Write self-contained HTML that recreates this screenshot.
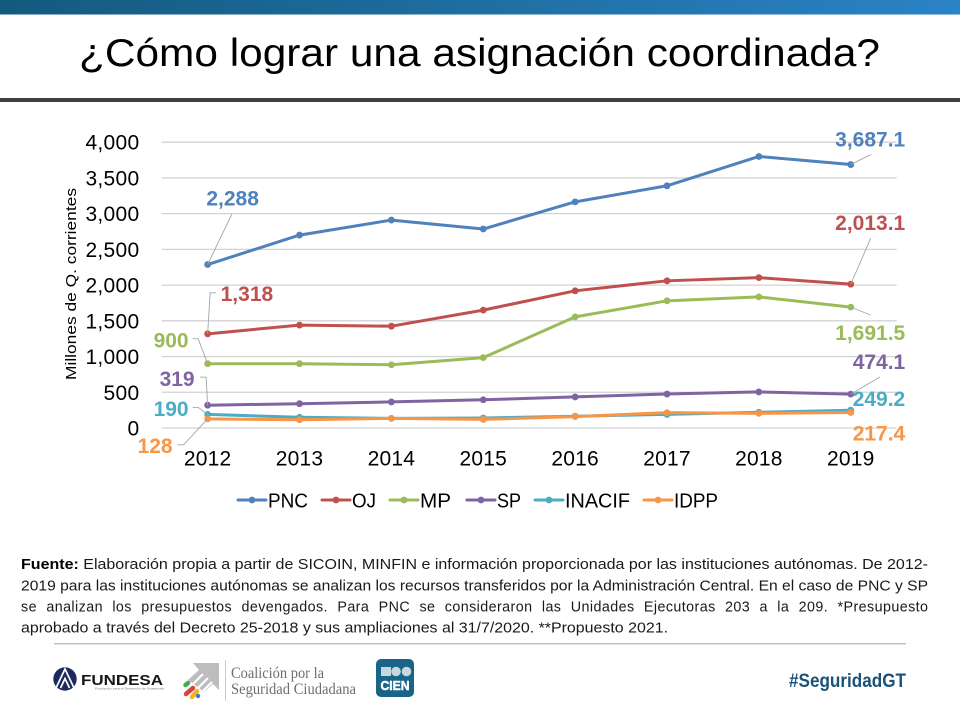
<!DOCTYPE html>
<html lang="es">
<head>
<meta charset="utf-8">
<title>¿Cómo lograr una asignación coordinada?</title>
<style>
html,body{margin:0;padding:0;background:#fff;width:960px;height:720px;overflow:hidden}
svg{display:block;font-family:"Liberation Sans",sans-serif}
</style>
</head>
<body>
<svg id="slide" width="960" height="720" viewBox="0 0 960 720" xmlns="http://www.w3.org/2000/svg">
  <defs>
    <linearGradient id="barGrad" x1="0" x2="1" y1="0" y2="0">
      <stop offset="0" stop-color="#135a7e"/>
      <stop offset="1" stop-color="#2a83c6"/>
    </linearGradient>
  </defs>
  <rect x="0" y="0" width="960" height="14.5" fill="url(#barGrad)"/>
  <text x="79" y="66" font-size="39" textLength="801" lengthAdjust="spacingAndGlyphs" fill="#000">¿Cómo lograr una asignación coordinada?</text>
  <rect x="0" y="98" width="960" height="4" fill="#404040"/>

  <g id="chart"></g>

  <text transform="translate(76,380) rotate(-90)" font-size="14.5" textLength="192" lengthAdjust="spacingAndGlyphs" fill="#000">Millones de Q. corrientes</text>

  <g font-size="14.3" fill="#1a1a1a">
    <text x="21" y="569" textLength="907" lengthAdjust="spacingAndGlyphs"><tspan font-weight="700" fill="#000">Fuente:</tspan> Elaboración propia a partir de SICOIN, MINFIN e información proporcionada por las instituciones autónomas. De 2012-</text>
    <text x="21" y="590.5" textLength="907" lengthAdjust="spacingAndGlyphs">2019 para las instituciones autónomas se analizan los recursos transferidos por la Administración Central. En el caso de PNC y SP</text>
    <text x="21" y="611.5" textLength="907" lengthAdjust="spacing" word-spacing="5">se analizan los presupuestos devengados. Para PNC se consideraron las Unidades Ejecutoras 203 a la 209. *Presupuesto</text>
    <text x="21" y="632.5" textLength="647" lengthAdjust="spacingAndGlyphs">aprobado a través del Decreto 25-2018 y sus ampliaciones al 31/7/2020. **Propuesto 2021.</text>
  </g>

  <rect x="54" y="643" width="852" height="1.4" fill="#bfbfbf"/>

  <g>
    <circle cx="65" cy="679" r="11.7" fill="#1c2a5e"/>
    <path d="M56 688 L65 669 L74 688 M60.5 688 L65 678.5 L69.5 688" fill="none" stroke="#fff" stroke-width="1.7"/>
    <text x="81" y="685" font-size="15" font-weight="700" textLength="82" lengthAdjust="spacingAndGlyphs" fill="#161616">FUNDESA</text>
    <text x="95" y="689.5" font-size="3" textLength="69" lengthAdjust="spacingAndGlyphs" fill="#777">Fundación para el Desarrollo de Guatemala</text>
  </g>

  <g>
    <polygon points="193,663 219,663 219,690 213,684 204,692 188,680 199,670" fill="#bdbdbd"/>
    <path d="M193 684 L203 674 M198 688 L208 678 M203 691 L212 682" stroke="#fff" stroke-width="2.2" fill="none"/>
    <line x1="185.500" y1="685" x2="188" y2="683" stroke="#4aa84a" stroke-width="4.500" stroke-linecap="round"/>
    <line x1="186" y1="694" x2="193" y2="688" stroke="#d5443c" stroke-width="4.500" stroke-linecap="round"/>
    <line x1="192" y1="697" x2="197" y2="691" stroke="#f0b429" stroke-width="4.500" stroke-linecap="round"/>
    <circle cx="198" cy="696" r="2.2" fill="#3a7fc4"/>
    <rect x="225" y="660" width="0.9" height="41" fill="#c4c4c4"/>
    <text x="231" y="678" font-family="'Liberation Serif',serif" font-size="15.500" textLength="93" lengthAdjust="spacingAndGlyphs" fill="#6e6e6e">Coalición por la</text>
    <text x="231" y="694" font-family="'Liberation Serif',serif" font-size="15.500" textLength="125" lengthAdjust="spacingAndGlyphs" fill="#6e6e6e">Seguridad Ciudadana</text>
  </g>

  <g>
    <rect x="376" y="659" width="38" height="38" rx="5" fill="#1a6488"/>
    <rect x="381" y="667" width="10" height="9" fill="#c5d7e1"/>
    <circle cx="396" cy="671.500" r="4.800" fill="#c5d7e1"/>
    <circle cx="406.500" cy="671.500" r="4.800" fill="#c5d7e1"/>
    <text x="395" y="690" font-size="13" font-weight="700" stroke="#fff" stroke-width="0.5" text-anchor="middle" textLength="29" lengthAdjust="spacingAndGlyphs" fill="#fff">CIEN</text>
  </g>

  <text x="789" y="687" font-size="19" font-weight="700" textLength="117" lengthAdjust="spacingAndGlyphs" fill="#1b5279">#SeguridadGT</text>
</svg>

<script>
const categories = ['2012', '2013', '2014', '2015', '2016', '2017', '2018', '2019'];
const yTicks = [0, 500, 1000, 1500, 2000, 2500, 3000, 3500, 4000];
const yTickLabels = ['0', '500', '1,000', '1,500', '2,000', '2,500', '3,000', '3,500', '4,000'];

const pnc = [2288, 2700, 2910, 2785, 3165, 3390, 3800, 3687.1];
const oj = [1318, 1440, 1425, 1650, 1920, 2060, 2105, 2013.1];
const mp = [900, 900, 885, 985, 1555, 1780, 1835, 1691.5];
const sp = [319, 340, 365, 395, 435, 475, 505, 474.1];
const inacif = [190, 150, 135, 140, 165, 190, 220, 249.2];
const idpp = [128, 115, 135, 120, 160, 215, 205, 217.4];

const seriesNames = ['PNC', 'OJ', 'MP', 'SP', 'INACIF', 'IDPP'];
const firstLabels = ['2,288', '1,318', '900', '319', '190', '128'];
const lastLabels = ['3,687.1', '2,013.1', '1,691.5', '474.1', '249.2', '217.4'];

const seriesValues = [pnc, oj, mp, sp, inacif, idpp];
const colors = ['#4f81bd', '#c0504d', '#9bbb59', '#8064a2', '#4bacc6', '#f79646'];
const plot = { left: 161.7, right: 896.7, zeroY: 428, topY: 142.2, max: 4000 };
const step = (plot.right - plot.left) / categories.length;
const xScale = i => plot.left + step * (i + 0.5);
const yScale = v => plot.zeroY - (v / plot.max) * (plot.zeroY - plot.topY);

const SVGNS = 'http://www.w3.org/2000/svg';
const chart = document.getElementById('chart');
function make(tag, attrs, parent) {
  const el = document.createElementNS(SVGNS, tag);
  for (const k in attrs) el.setAttribute(k, attrs[k]);
  parent.appendChild(el);
  return el;
}

yTicks.forEach((t, i) => {
  const grid = make('line', { x1: plot.left, x2: plot.right, y1: yScale(t), y2: yScale(t), stroke: '#d3d3d3', 'stroke-width': 1.3 }, chart);
  
  
  const tick = make('text', { x: 139.500, y: yScale(t) + 7.500, 'text-anchor': 'end', 'font-size': 21, 'letter-spacing': 0.3, fill: '#000' }, chart);
  tick.textContent = yTickLabels[i];
  
  
});

categories.forEach((c, i) => {
  const lab = make('text', { x: xScale(i), y: 465.500, 'text-anchor': 'middle', 'font-size': 21, 'letter-spacing': 0.2, fill: '#000' }, chart);
  lab.textContent = c;
  
  
});

seriesValues.forEach((vals, s) => {
  const name = seriesNames[s].toLowerCase();
  const g = make('g', {}, chart);
  
  
  const line = make('polyline', {
    points: vals.map((v, i) => xScale(i) + ',' + yScale(v)).join(' '),
    fill: 'none', stroke: colors[s], 'stroke-width': 3, 'stroke-linejoin': 'round', 'stroke-linecap': 'round'
  }, g);
  
  
  vals.forEach((v, i) => {
    const pt = make('circle', { cx: xScale(i), cy: yScale(v), r: 3.4, fill: colors[s] }, g);
    
    
  });
});

/* label layout: text position and leader elbows, as offsets from each labelled point */
const firstLayout = [
  { dx: 25, dy: -59, anchor: 'middle', leader: [[24.500, -51]] },
  { dx: 13, dy: -33, anchor: 'start', leader: [[2.500, -41], [8.500, -41]] },
  { dx: -19, dy: -16, anchor: 'end', leader: [[-9.500, -25], [-15, -25]] },
  { dx: -13, dy: -19, anchor: 'end', leader: [[-1.500, -28], [-7.500, -28]] },
  { dx: -19, dy: 1.500, anchor: 'end', leader: [[-9.500, -7], [-15, -7]] },
  { dx: -35, dy: 34, anchor: 'end', leader: [[-24, 26], [-30.500, 26]] }
];
const lastLayout = [
  { dx: 54.500, dy: -18, leader: [[20, -10]] },
  { dx: 54.500, dy: -54, leader: [[20, -46]] },
  { dx: 54.500, dy: 33, leader: [[20, 8]] },
  { dx: 54.500, dy: -25, leader: [[29, -17]] },
  { dx: 54.500, dy: -4, leader: [] },
  { dx: 54.500, dy: 28, leader: [] }
];

function drawLabel(s, idx, text, layout, side) {
  const px = xScale(idx);
  const py = yScale(seriesValues[s][idx]);
  const name = seriesNames[s].toLowerCase();
  if (layout.leader.length) {
    const pts = [[px, py]].concat(layout.leader.map(o => [px + o[0], py + o[1]]));
    const lead = make('polyline', { points: pts.map(p => p.join(',')).join(' '), fill: 'none', stroke: '#a6a6a6', 'stroke-width': 0.9 }, chart);
    
    
  }
  const t = make('text', { x: px + layout.dx, y: py + layout.dy, 'text-anchor': layout.anchor || 'end', 'font-size': 21, 'font-weight': 700, fill: colors[s] }, chart);
  t.textContent = text;
  
  
}
seriesNames.forEach((n, s) => {
  drawLabel(s, 0, firstLabels[s], firstLayout[s], 'first');
  drawLabel(s, categories.length - 1, lastLabels[s], lastLayout[s], 'last');
});

const legendStart = [238, 322, 390, 467, 535, 644];
const legendWidth = [40, 24, 31, 24, 65, 44];
seriesNames.forEach((n, s) => {
  const name = n.toLowerCase();
  const g = make('g', {}, chart);
  
  
  const x0 = legendStart[s];
  make('line', { x1: x0, x2: x0 + 28, y1: 500, y2: 500, stroke: colors[s], 'stroke-width': 3, 'stroke-linecap': 'round' }, g);
  make('circle', { cx: x0 + 14, cy: 500, r: 3.4, fill: colors[s] }, g);
  const t = make('text', { x: x0 + 30, y: 507.500, 'font-size': 20.500, textLength: legendWidth[s], lengthAdjust: 'spacingAndGlyphs', fill: '#000' }, g);
  t.textContent = n;
});
</script>
</body>
</html>
